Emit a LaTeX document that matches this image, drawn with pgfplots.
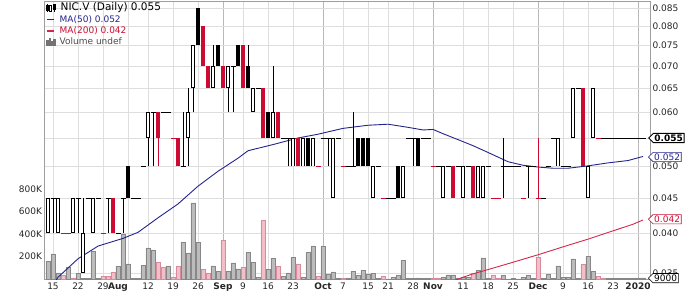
\documentclass[border=0pt]{standalone}
\usepackage{fontspec}
\setmainfont{DejaVu Sans}
\usepackage{pgfplots}
\pgfplotsset{compat=1.18}
\usepackage{pgfplotstable}
\usetikzlibrary{shapes.symbols}
\definecolor{cred}{RGB}{205,10,50}
\definecolor{ma50}{RGB}{35,35,140}
\definecolor{ma200}{RGB}{210,40,75}
\definecolor{gridc}{RGB}{222,222,222}
\definecolor{gridm}{RGB}{185,185,185}
\definecolor{volg}{RGB}{188,188,188}
\definecolor{volgd}{RGB}{135,135,135}
\definecolor{volp}{RGB}{242,190,200}
\definecolor{volpd}{RGB}{215,140,158}

% t: 0 hollow, 1 filled black, 2 dash black, 3 filled red, 4 dash red ; d: 1 = pink volume
\pgfplotstableread{
i o h l c t v d
-1 0.040 0.045 0.040 0.045 0 158000 0
0 0.045 0.045 0.040 0.045 2 224000 0
1 0.040 0.045 0.040 0.045 0 55000 0
2 0.040 0.040 0.040 0.040 4 31000 1
3 0.040 0.040 0.040 0.040 4 105000 0
4 0.040 0.045 0.040 0.045 0 10000 1
5 0.045 0.045 0.040 0.045 2 52000 0
6 0.035 0.045 0.035 0.040 0 8000 0
7 0.045 0.045 0.045 0.045 2 8000 0
8 0.040 0.045 0.040 0.045 0 244000 0
9 0.045 0.045 0.045 0.045 2 5000 0
10 0.040 0.040 0.040 0.040 4 22000 1
11 0.045 0.045 0.040 0.045 2 22000 1
12 0.045 0.045 0.040 0.040 3 62000 1
13 0.040 0.040 0.040 0.040 2 111000 0
14 0.045 0.045 0.040 0.045 2 402000 0
15 0.050 0.050 0.045 0.045 1 135000 0
16 0.045 0.045 0.045 0.045 2 5000 0
17 0.045 0.045 0.045 0.045 2 3000 0
18 0.050 0.050 0.050 0.050 2 120000 0
19 0.055 0.060 0.050 0.060 0 277000 0
20 0.060 0.060 0.050 0.060 2 260000 0
21 0.060 0.060 0.050 0.055 3 147000 1
22 0.060 0.060 0.060 0.060 2 102000 1
23 0.060 0.060 0.060 0.060 2 117000 0
24 0.055 0.055 0.055 0.055 4 13000 1
25 0.055 0.055 0.050 0.050 3 111000 1
26 0.050 0.060 0.050 0.050 2 327000 0
27 0.055 0.065 0.050 0.060 0 233000 0
28 0.065 0.075 0.060 0.075 0 677000 0
29 0.085 0.085 0.075 0.075 1 324000 0
30 0.080 0.080 0.070 0.070 3 84000 1
31 0.070 0.070 0.065 0.065 3 55000 1
32 0.065 0.075 0.065 0.070 0 117000 0
33 0.075 0.075 0.070 0.070 1 67000 0
34 0.070 0.070 0.065 0.065 3 342000 1
35 0.065 0.070 0.060 0.070 0 69000 0
36 0.070 0.070 0.060 0.070 2 144000 0
37 0.075 0.075 0.070 0.070 1 91000 0
38 0.075 0.075 0.065 0.065 3 105000 1
39 0.070 0.075 0.065 0.065 1 236000 0
40 0.060 0.065 0.060 0.065 0 147000 0
41 0.065 0.065 0.065 0.065 2 16000 0
42 0.065 0.065 0.055 0.055 3 520000 1
43 0.060 0.060 0.055 0.055 1 84000 0
44 0.055 0.070 0.055 0.060 0 182000 0
45 0.060 0.060 0.055 0.055 3 111000 1
46 0.055 0.055 0.055 0.055 2 22000 0
47 0.055 0.055 0.050 0.055 2 55000 0
48 0.050 0.055 0.050 0.055 0 191000 0
49 0.055 0.055 0.050 0.050 3 135000 1
50 0.050 0.055 0.050 0.055 0 16000 0
51 0.055 0.055 0.050 0.050 1 236000 0
52 0.050 0.055 0.050 0.055 0 295000 0
53 0.050 0.050 0.050 0.050 4 22000 1
54 0.055 0.055 0.055 0.055 2 295000 0
55 0.055 0.055 0.050 0.055 2 46000 0
56 0.045 0.055 0.045 0.055 0 64000 0
57 0.055 0.055 0.055 0.055 2 8000 0
58 0.050 0.050 0.050 0.050 4 6000 1
59 0.050 0.050 0.050 0.050 2 4000 0
60 0.050 0.060 0.050 0.050 2 67000 0
61 0.055 0.055 0.050 0.050 1 31000 0
62 0.055 0.055 0.050 0.050 1 76000 0
63 0.055 0.055 0.050 0.050 1 46000 0
64 0.045 0.050 0.045 0.050 0 52000 0
65 0.050 0.050 0.050 0.050 2 3000 0
66 0.045 0.045 0.045 0.045 4 22000 1
67 0.045 0.045 0.045 0.045 2 2000 0
68 0.045 0.045 0.045 0.045 2 16000 0
69 0.050 0.050 0.045 0.045 1 31000 0
70 0.045 0.050 0.045 0.050 0 164000 0
71 0.055 0.055 0.055 0.055 2 8000 0
72 0.055 0.055 0.050 0.055 2 6000 0
73 0.055 0.055 0.050 0.050 1 9000 0
74 0.055 0.055 0.055 0.055 2 8000 0
75 0.055 0.055 0.055 0.055 2 5000 0
76 0.050 0.050 0.050 0.050 4 10000 1
77 0.050 0.050 0.050 0.050 2 10000 1
78 0.045 0.050 0.045 0.050 0 15000 0
79 0.050 0.050 0.050 0.050 2 37000 0
80 0.050 0.050 0.045 0.045 3 37000 0
81 0.050 0.050 0.050 0.050 2 5000 0
82 0.045 0.050 0.045 0.050 0 18000 0
83 0.050 0.050 0.050 0.050 2 12000 0
84 0.050 0.050 0.045 0.045 3 52000 1
85 0.045 0.050 0.045 0.050 0 76000 0
86 0.045 0.050 0.045 0.050 0 188000 0
87 0.050 0.050 0.050 0.050 2 5000 0
88 0.045 0.045 0.045 0.045 4 31000 1
89 0.045 0.045 0.045 0.045 4 3000 1
90 0.050 0.055 0.045 0.050 2 31000 0
91 0.050 0.050 0.050 0.050 2 2000 0
92 0.050 0.050 0.050 0.050 2 3000 0
93 0.050 0.050 0.050 0.050 2 2000 0
94 0.045 0.045 0.045 0.045 4 16000 0
95 0.050 0.050 0.045 0.050 2 31000 0
96 0.050 0.050 0.050 0.050 2 3000 0
97 0.045 0.055 0.045 0.045 4 194000 1
98 0.045 0.045 0.045 0.045 2 5000 0
99 0.050 0.050 0.050 0.050 2 40000 0
100 0.055 0.055 0.055 0.055 2 5000 0
101 0.050 0.055 0.050 0.055 0 117000 0
102 0.050 0.050 0.050 0.050 2 16000 0
103 0.050 0.050 0.050 0.050 2 16000 0
104 0.055 0.065 0.055 0.065 0 180000 0
105 0.065 0.065 0.065 0.065 2 3000 0
106 0.065 0.065 0.050 0.050 3 129000 1
107 0.045 0.050 0.045 0.050 0 200000 0
108 0.055 0.065 0.055 0.065 0 67000 0
109 0.055 0.055 0.055 0.055 4 26000 1
110 0.055 0.055 0.055 0.055 2 8000 1
111 0.055 0.055 0.055 0.055 2 3000 0
112 0.055 0.055 0.055 0.055 2 3000 0
113 0.055 0.055 0.055 0.055 2 3000 0
114 0.055 0.055 0.055 0.055 2 3000 0
115 0.055 0.055 0.055 0.055 2 3000 0
116 0.055 0.055 0.055 0.055 2 3000 0
117 0.055 0.055 0.055 0.055 2 3000 0
118 0.055 0.055 0.055 0.055 2 9000 0
}\candles

\pgfplotstableread{
i p
0 0.0336
1 0.0345
5 0.0367
9 0.0383
11 0.0387
14 0.0393
17 0.0401
21 0.0421
25 0.0441
29 0.0468
33 0.0492
37 0.0514
39 0.0527
44 0.0538
49 0.0550
53 0.0557
58 0.0568
63 0.0574
67 0.0576
71 0.0570
74 0.0565
76 0.0566
78 0.0558
81 0.0547
84 0.0536
87 0.0524
91 0.0508
94 0.0502
97 0.0499
100 0.0497
103 0.0497
107 0.0501
111 0.0506
115 0.0510
118 0.0517
}\maA

\pgfplotstableread{
i p
78 0.0336
81 0.0343
84 0.0349
87 0.0354
91 0.0361
97 0.0372
102 0.0382
107 0.0392
112 0.0403
116 0.0412
118 0.0418
}\maB

\pgfplotsset{
  ebar/.style 2 args={draw=none, mark=none, forget plot,
    error bars/y dir=plus, error bars/y explicit, error bars/error mark=none,
    error bars/error bar style={draw=#1, line width=#2}},
  dbar/.style={draw=none, mark=none, forget plot,
    error bars/x dir=both, error bars/x fixed=0.5, error bars/error mark=none,
    error bars/error bar style={draw=#1, line width=0.8pt}},
}

\begin{document}
\begin{tikzpicture}
\useasboundingbox (0,0) rectangle (700pt,293pt);

% grid axis
\begin{axis}[ymode=log, ymin=0.0343, ymax=0.08687,
  at={(44.5pt,14pt)}, anchor=south west, scale only axis,
  width=605.5pt, height=277.5pt, xmin=-1.7, xmax=119.4,
  axis line style={draw=black!38, line width=0.6pt},
  tick style={draw=none},
  xtick={34,54,76,97,117}, xticklabels={},
  minor xtick={0,5,10,15,19,24,29,38,43,48,58,63,67,72,82,87,92,102,107,112},
  xmajorgrids, xminorgrids,
  major x grid style={gridm, line width=0.6pt},
  minor x grid style={gridc, line width=0.6pt},
  ytick={0.035,0.04,0.045,0.05,0.055,0.06,0.065,0.07,0.075,0.08,0.085},
  yticklabels={0.035,0.040,0.045,0.050,{},0.060,0.065,0.070,0.075,0.080,0.085},
  minor ytick={},
  ymajorgrids, major y grid style={gridc, line width=0.6pt},
  yticklabel pos=right,
  yticklabel style={font=\fontsize{9}{10}\selectfont, text=black!85, xshift=-1pt},
]
\end{axis}

% volume axis
\begin{axis}[ymin=0, ymax=2466700,
  at={(44.5pt,14pt)}, anchor=south west, scale only axis,
  width=605.5pt, height=277.5pt, xmin=-1.7, xmax=119.4,
  axis line style={draw=none}, tick style={draw=none},
  scaled y ticks=false,
  ytick={200000,400000,600000,800000},
  yticklabels={200K,400K,600K,800K},
  yticklabel style={font=\fontsize{9}{10}\selectfont, text=black!85, xshift=1pt},
  xtick={0,5,10,13,19,24,29,34,38,43,48,54,58,63,67,72,76,82,87,92,97,102,107,112,117},
  xticklabels={15,22,29,\textbf{Aug},12,19,26,\textbf{Sep},9,16,23,\textbf{Oct},7,15,21,28,\textbf{Nov},11,18,25,\textbf{Dec},9,16,23,\textbf{2020}},
  xticklabel style={font=\fontsize{9}{10}\selectfont, text=black!85},
]
\addplot[ybar, bar width=0.88, bar shift=0pt, fill=volg, draw=volgd, line width=0.5pt,
  restrict expr to domain={\thisrow{d}}{0:0}] table[x=i, y=v]{\candles};
\addplot[ybar, bar width=0.88, bar shift=0pt, fill=volp, draw=volpd, line width=0.5pt,
  restrict expr to domain={\thisrow{d}}{1:1}] table[x=i, y=v]{\candles};
\end{axis}

% price axis
\begin{axis}[ymode=log, ymin=0.0343, ymax=0.08687,
  at={(44.5pt,14pt)}, anchor=south west, scale only axis,
  width=605.5pt, height=277.5pt, xmin=-1.7, xmax=119.4,
  hide axis, clip mode=individual,
  legend style={at={(0,1)}, anchor=north west, xshift=1.5pt, yshift=-0.5pt,
    draw=none, fill=none, inner sep=0pt, row sep=1.3pt,
    font=\fontsize{9}{10}\selectfont,
    nodes={inner sep=0.8pt}},
  legend cell align=left,
]
\addplot[ma50, line width=0.9pt, forget plot] table[x=i, y=p]{\maA};
\addplot[ma200, line width=0.9pt, forget plot] table[x=i, y=p]{\maB};

% wicks
\addplot[ebar={black}{0.8pt}, restrict expr to domain={\thisrow{t}}{0:2}]
  table[x=i, y=l, y error expr={\thisrow{h}-\thisrow{l}}]{\candles};
\addplot[ebar={cred}{0.8pt}, restrict expr to domain={\thisrow{t}}{3:4}]
  table[x=i, y=l, y error expr={\thisrow{h}-\thisrow{l}}]{\candles};
% hollow bodies
\addplot[ebar={black}{4.2pt}, restrict expr to domain={\thisrow{t}}{0:0}]
  table[x=i, y expr={min(\thisrow{o},\thisrow{c})}, y error expr={abs(\thisrow{c}-\thisrow{o})}]{\candles};
\addplot[ebar={white}{2.6pt}, restrict expr to domain={\thisrow{t}}{0:0}]
  table[x=i, y expr={min(\thisrow{o},\thisrow{c})*1.0027}, y error expr={max(\thisrow{o},\thisrow{c})/1.0027-min(\thisrow{o},\thisrow{c})*1.0027}]{\candles};
% filled black
\addplot[ebar={black}{4.2pt}, restrict expr to domain={\thisrow{t}}{1:1}]
  table[x=i, y expr={min(\thisrow{o},\thisrow{c})}, y error expr={abs(\thisrow{c}-\thisrow{o})}]{\candles};
% filled red
\addplot[ebar={cred}{4.2pt}, restrict expr to domain={\thisrow{t}}{3:3}]
  table[x=i, y expr={min(\thisrow{o},\thisrow{c})}, y error expr={abs(\thisrow{c}-\thisrow{o})}]{\candles};
% dashes (open = close)
\addplot[dbar=black, restrict expr to domain={\thisrow{t}}{2:2}] table[x=i, y=c]{\candles};
\addplot[dbar=cred, restrict expr to domain={\thisrow{t}}{4:4}] table[x=i, y=c]{\candles};

\addlegendimage{legend image code/.code={
  \draw[black, line width=0.6pt] (1pt,-4pt) -- (1pt,4pt);
  \fill[black] (0pt,-2.5pt) rectangle (2pt,3pt);
  \draw[black, line width=0.5pt, fill=white] (3.2pt,-3pt) rectangle (5.2pt,2pt);
  \fill[black] (6.4pt,-1pt) rectangle (8.4pt,4pt);
  \draw[black, line width=0.6pt] (7.4pt,-4pt) -- (7.4pt,4pt);}}
\addlegendentry{\hspace*{4.5pt}\fontsize{10.5}{12}\selectfont NIC.V (Daily) 0.055}
\addlegendimage{legend image code/.code={\draw[ma50, line width=1.6pt] (0.8pt,0pt) -- (8pt,0pt);}}
\addlegendentry{\hspace*{3.5pt}\textcolor{ma50}{MA(50) 0.052}}
\addlegendimage{legend image code/.code={\draw[ma200, line width=1.6pt] (0.8pt,0pt) -- (8pt,0pt);}}
\addlegendentry{\hspace*{3.5pt}\textcolor{cred}{MA(200) 0.042}}
\addlegendimage{legend image code/.code={
  \fill[black!55] (0pt,-3.5pt) rectangle (1.6pt,1.5pt);
  \fill[black!55] (2.4pt,-3.5pt) rectangle (4pt,3.5pt);
  \fill[black!55] (4.8pt,-3.5pt) rectangle (6.4pt,0.5pt);
  \fill[black!55] (7.2pt,-3.5pt) rectangle (8.8pt,2.5pt);}}
\addlegendentry{\hspace*{3.5pt}\textcolor{black!70}{Volume undef}}

\node[signal, signal to=west, draw=black, line width=0.9pt, fill=white, inner sep=1.2pt,
  font=\bfseries\fontsize{9}{10}\selectfont, anchor=west] at (axis cs:119.0,0.055) {0.055};
\node[signal, signal to=west, draw=ma50, line width=0.6pt, fill=white, inner sep=1.2pt, text=ma50,
  font=\fontsize{9}{10}\selectfont, anchor=west] at (axis cs:119.0,0.0516) {0.052};
\node[signal, signal to=west, draw=cred, line width=0.6pt, fill=white, inner sep=1.2pt, text=cred,
  font=\fontsize{9}{10}\selectfont, anchor=west] at (axis cs:119.0,0.0419) {0.042};
\node[signal, signal to=west, draw=black, line width=0.6pt, fill=white, inner sep=1.2pt,
  font=\fontsize{9}{10}\selectfont, anchor=west] at (axis cs:119.0,0.0344) {9000};
\end{axis}
\end{tikzpicture}
\end{document}
